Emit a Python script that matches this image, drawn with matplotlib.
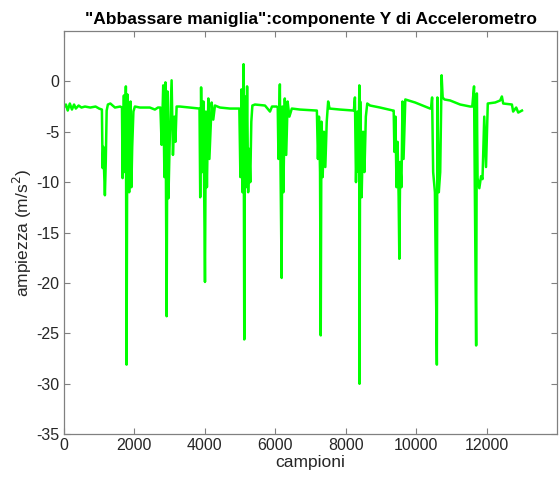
import matplotlib.pyplot as plt

plt.rcParams['font.family'] = ['Liberation Sans', 'DejaVu Sans']
plt.rcParams['axes.unicode_minus'] = False

# keypoints (sample index, value)
samples = [0, 60, 110, 170, 230, 290, 340, 420, 500, 600, 750, 900, 1000,
           1080, 1100, 1120, 1165, 1190, 1215, 1250, 1320, 1450, 1600,
           1650, 1667, 1704, 1732, 1760, 1780, 1803, 1832, 1854, 1894, 1917, 1940, 1974, 2016,
           2160, 2440, 2584, 2670,
           2740, 2775, 2820, 2854, 2883, 2917, 2940, 2968, 3010, 3058, 3096, 3138, 3167, 3200,
           3294, 3578, 3834,
           3850, 3870, 3895, 3925, 3960, 4005, 4030, 4060, 4100, 4130, 4195, 4240, 4288,
           4430, 4714, 4942,
           4980, 5010, 5040, 5070, 5100, 5120, 5140, 5170, 5200, 5230, 5260, 5290, 5320, 5350,
           5424, 5708, 5850, 5907, 6040,
           6070, 6090, 6130, 6150, 6180, 6200, 6230, 6270, 6310, 6350, 6400, 6470,
           6702, 7157,
           7180, 7210, 7240, 7270, 7290, 7310, 7345, 7380, 7420, 7460, 7500, 7540,
           7838, 8208,
           8230, 8260, 8290, 8330, 8360, 8385, 8390, 8410, 8450, 8490, 8530, 8570, 8610,
           8690, 8974, 9344,
           9360, 9380, 9410, 9440, 9470, 9500, 9520, 9545, 9580, 9610, 9640, 9690,
           9968, 10110, 10394,
           10420, 10450, 10480, 10530, 10585, 10600, 10640, 10680, 10720, 10750, 10800,
           10962, 11246, 11530,
           11590, 11640, 11660, 11700, 11720, 11740, 11790, 11840, 11880, 11930, 11980, 12030,
           12240, 12382, 12430, 12468, 12715, 12750, 12837, 12894, 13000]
values = [-2.6, -2.3, -2.9, -2.2, -2.8, -2.3, -2.7, -2.4, -2.6, -2.5, -2.6, -2.5, -2.7,
          -2.8, -8.6, -6.5, -11.3, -8.0, -2.9, -2.3, -2.2, -2.6, -2.5,
          -2.6, -9.6, -1.4, -9.0, -0.5, -28.1, -1.3, -8.0, -11.0, -2.0, -10.5, -6.5, -3.0, -2.5,
          -2.6, -2.6, -2.8, -2.6,
          -2.6, -6.3, -0.4, -9.5, -0.1, -23.3, -1.0, -11.6, -5.0, 0.1, -7.3, -3.5, -6.0, -2.5,
          -2.5, -2.6, -2.7,
          -2.7, -11.5, -0.6, -9.0, -2.0, -19.9, -3.0, -10.5, -1.7, -7.7, -2.1, -3.8, -2.4,
          -2.6, -2.7, -2.7,
          -2.7, -9.5, -0.8, -11.0, 1.7, -25.6, -1.5, -10.5, -0.5, -11.0, -6.7, -10.0, -4.0, -2.4,
          -2.3, -2.4, -3.0, -2.5, -2.5,
          -2.6, -7.7, -0.3, -9.0, -19.5, -2.5, -11.0, -1.7, -7.3, -2.0, -3.5, -2.7,
          -2.8, -2.9,
          -2.9, -7.7, -3.5, -9.0, -25.2, -4.0, -9.5, -5.0, -8.5, -4.0, -2.0, -2.7,
          -2.8, -2.9,
          -2.9, -1.6, -10.0, -3.0, -9.0, -0.4, -30.0, -2.0, -11.5, -5.0, -9.0, -3.5, -2.2,
          -2.4, -2.6, -2.9,
          -2.9, -7.0, -3.5, -10.5, -6.0, -11.4, -17.6, -8.0, -10.5, -2.0, -7.7, -1.8,
          -2.1, -2.3, -2.7,
          -2.7, -1.6, -9.0, -11.0, -28.1, -1.6, -11.0, -9.0, 0.6, -1.6, -1.8,
          -1.9, -2.3, -2.5,
          -2.5, -0.5, -9.6, -26.2, -1.2, -9.6, -10.6, -9.4, -9.7, -3.5, -8.5, -2.2,
          -2.1, -1.9, -1.5, -2.2, -2.3, -3.0, -2.6, -3.1, -2.9]

x_ticks = [0, 2000, 4000, 6000, 8000, 10000, 12000]
y_ticks = [-35, -30, -25, -20, -15, -10, -5, 0]

fig = plt.figure(figsize=(5.6, 4.83), dpi=100)
ax = fig.add_axes([0.114, 0.101, 0.881, 0.835])

ax.plot(samples, values, color='#00ff00', lw=1.8)

ax.set_xlim(0, 14000)
ax.set_ylim(-35, 5)
ax.set_xticks(x_ticks)
ax.set_yticks(y_ticks)
ax.tick_params(direction='in', length=4, width=0.8, color='#808080',
               labelsize=11.5, labelcolor='#262626', top=True, right=True,
               labeltop=False, labelright=False, pad=3)
for sp in ax.spines.values():
    sp.set_color('#808080')
    sp.set_linewidth(0.9)

ax.set_title('"Abbassare maniglia":componente Y di Accelerometro',
             fontsize=12.5, fontweight='bold', pad=5)
ax.set_xlabel('campioni', fontsize=12.5, color='#262626', labelpad=1)
ax.set_ylabel('ampiezza (m/s$^2$)', fontsize=12.5, color='#262626', labelpad=2)

fig.savefig('out.png', dpi=100)
